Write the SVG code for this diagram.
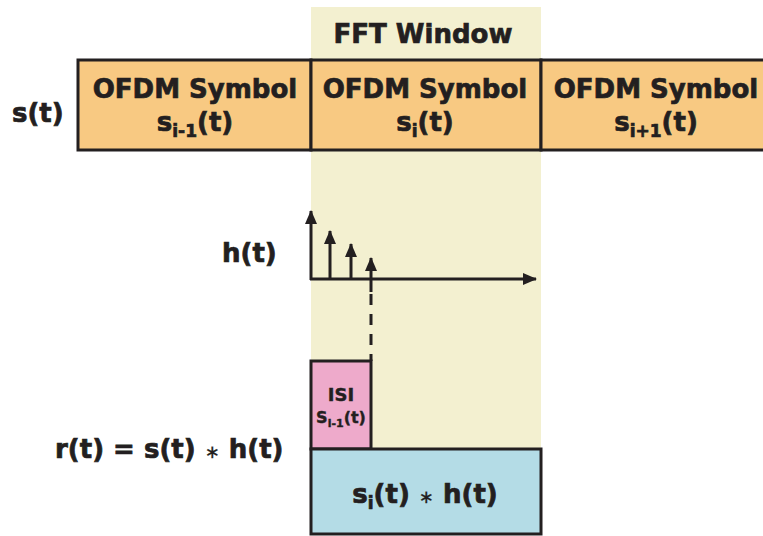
<svg xmlns="http://www.w3.org/2000/svg" width="763" height="536" viewBox="0 0 763 536">
  <style>
    .lbl { font-family: "DejaVu Sans", "Liberation Sans", sans-serif; font-weight: bold; fill: #231f20; stroke: #231f20; stroke-width: 0.7; }
    .big { font-size: 26px; }
    .small { font-size: 16px; stroke-width: 0.4; }
    .isi-title { font-size: 18px; }
    .box { stroke: #231f20; stroke-width: 3; }
    .sym { fill: #f8c982; }
    .axis { stroke: #231f20; stroke-width: 3; fill: none; }
    .op { font-weight: normal; font-size: 18px; stroke-width: 0.3; }
  </style>
  <defs>
    <marker id="arrow" viewBox="0 0 14 12" refX="13" refY="6" markerWidth="14" markerHeight="12" markerUnits="userSpaceOnUse" orient="auto">
      <path d="M0,0 L14,6 L0,12 Z" fill="#231f20"/>
    </marker>
  </defs>

  <rect width="763" height="536" fill="#ffffff"/>

  <!-- FFT window shading -->
  <g id="fft-window">
    <rect x="311" y="7" width="230" height="442" fill="#f3f0d0"/>
    <text class="lbl big" x="423" y="43" text-anchor="middle">FFT Window</text>
  </g>

  <!-- transmitted signal label -->
  <g id="label-s">
    <text class="lbl big" x="12" y="122">s(t)</text>
  </g>

  <!-- OFDM symbols -->
  <g id="symbol-prev">
    <rect class="box sym" x="78" y="60" width="233" height="90"/>
    <text class="lbl big" x="195" y="98" text-anchor="middle">OFDM Symbol</text>
    <text class="lbl big" x="195" y="131" text-anchor="middle">s<tspan font-size="17" dy="6">i-1</tspan><tspan dy="-6">(t)</tspan></text>
  </g>
  <g id="symbol-cur">
    <rect class="box sym" x="311" y="60" width="230" height="90"/>
    <text class="lbl big" x="425" y="98" text-anchor="middle">OFDM Symbol</text>
    <text class="lbl big" x="425" y="131" text-anchor="middle">s<tspan font-size="17" dy="6">i</tspan><tspan dy="-6">(t)</tspan></text>
  </g>
  <g id="symbol-next">
    <rect class="box sym" x="541" y="60" width="232" height="90"/>
    <text class="lbl big" x="656" y="98" text-anchor="middle">OFDM Symbol</text>
    <text class="lbl big" x="656" y="131" text-anchor="middle">s<tspan font-size="17" dy="6">i+1</tspan><tspan dy="-6">(t)</tspan></text>
  </g>

  <!-- channel impulse response label -->
  <g id="label-h">
    <text class="lbl big" x="222" y="262">h(t)</text>
  </g>

  <!-- received signal label -->
  <g id="label-r">
    <text class="lbl big" x="55" y="458">r(t) = s(t) <tspan class="op">∗</tspan> h(t)</text>
  </g>

  <!-- ISI part -->
  <g id="isi">
    <rect class="box" x="311" y="361" width="60" height="88" fill="#eeaacb"/>
    <text class="lbl small isi-title" x="341" y="401" text-anchor="middle">ISI</text>
    <text class="lbl small" x="341" y="423" text-anchor="middle">S<tspan font-size="11" dy="4">i-1</tspan><tspan dy="-4">(t)</tspan></text>
  </g>

  <!-- convolved current symbol -->
  <g id="conv">
    <rect class="box" x="311" y="449" width="230" height="85" fill="#b4dce6"/>
    <text class="lbl big" x="425" y="503" text-anchor="middle">s<tspan font-size="17" dy="6">i</tspan><tspan dy="-6">(t) </tspan><tspan class="op">∗</tspan> h(t)</text>
  </g>

  <!-- axes, impulses and the dashed drop line -->
  <g id="connectors">
    <line class="axis" x1="311" y1="280" x2="311" y2="211" marker-end="url(#arrow)"/>
    <line class="axis" x1="310" y1="279" x2="536" y2="279" marker-end="url(#arrow)"/>
    <line class="axis" x1="330" y1="279" x2="330" y2="231" marker-end="url(#arrow)"/>
    <line class="axis" x1="351" y1="279" x2="351" y2="244" marker-end="url(#arrow)"/>
    <line class="axis" x1="371" y1="292" x2="371" y2="258" marker-end="url(#arrow)"/>
    <line class="axis" x1="371" y1="294" x2="371" y2="361" stroke-dasharray="11 9"/>
  </g>
</svg>
